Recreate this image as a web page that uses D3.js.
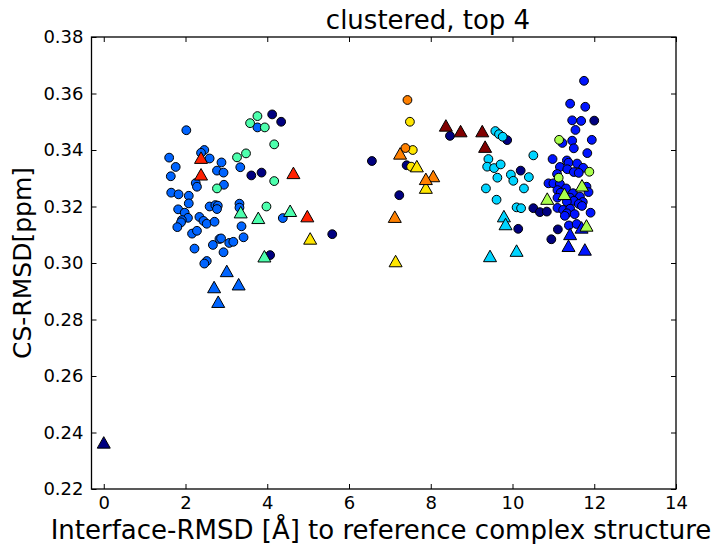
<!DOCTYPE html>
<html>
<head>
<meta charset="utf-8">
<script src="https://cdn.jsdelivr.net/npm/d3@7"></script>
<style>
  html, body { margin: 0; padding: 0; background: #fff; }
  svg { display: block; }
  text { font-family: "DejaVu Sans", sans-serif; fill: #000; }
</style>
</head>
<body>
<svg id="chart" width="721" height="544"></svg>
<script>
// ---- data ----
const title = "clustered, top 4";
const xLabel = "Interface-RMSD [Å] to reference complex structure";
const yLabel = "CS-RMSD[ppm]";
const xTicks = [0, 2, 4, 6, 8, 10, 12, 14];
const yTicks = [0.22, 0.24, 0.26, 0.28, 0.30, 0.32, 0.34, 0.36, 0.38];
const xDomain = [-0.3, 14];
const yDomain = [0.22, 0.38];

const clusterNames  = ["navy", "blue", "azure", "cyan", "aqua", "lime", "yellow", "orange", "red", "darkred"];
const clusterColors = ["#000080", "#0014ff", "#0064ff", "#00d4ff", "#4dffad", "#aaff4d", "#ffe600", "#ff8000", "#ff2000", "#800000"];

const circlesNavy = [[4.12,0.3526],[4.34,0.350],[3.61,0.331],[3.86,0.332],[4.07,0.3028],[5.59,0.3102],[6.56,0.3361],[7.41,0.3346],[7.23,0.324],[8.47,0.345],[9.87,0.3435],[10.2,0.3327],[10.51,0.3194],[10.67,0.318],[10.84,0.3182],[10.14,0.3121],[11.11,0.3119],[10.95,0.3084],[12.0,0.3504]];
const circlesBlue = [[11.75,0.3645],[11.41,0.3564],[11.78,0.3553],[11.46,0.3505],[11.68,0.3503],[11.54,0.3471],[11.22,0.3425],[11.46,0.3433],[11.5,0.3406],[11.94,0.3436],[11.83,0.3389],[10.98,0.3368],[11.33,0.3363],[11.37,0.3355],[11.58,0.3352],[11.16,0.334],[11.34,0.3332],[11.73,0.3337],[11.5,0.3322],[11.62,0.3319],[11.09,0.3315],[10.88,0.3282],[11.0,0.3282],[11.16,0.328],[11.31,0.3264],[11.1,0.3258],[11.18,0.3249],[11.81,0.327],[11.86,0.3251],[11.48,0.3247],[11.65,0.3235],[11.41,0.3231],[11.1,0.3231],[11.5,0.322],[11.33,0.3217],[11.72,0.3216],[11.62,0.3209],[11.1,0.3195],[11.24,0.3188],[11.41,0.3192],[11.7,0.3202],[11.33,0.3176],[11.28,0.3167],[11.52,0.3173],[11.91,0.3178],[11.38,0.3133],[11.57,0.3138]];
const circlesAzure = [[2.02,0.347],[3.76,0.348],[1.60,0.3373],[2.46,0.340],[2.38,0.339],[2.59,0.337],[2.88,0.3356],[1.76,0.334],[3.34,0.3339],[2.77,0.3327],[2.93,0.332],[1.64,0.3307],[2.25,0.3283],[2.28,0.327],[2.94,0.3277],[1.65,0.3249],[1.83,0.3243],[2.08,0.3238],[2.08,0.3211],[1.82,0.319],[1.98,0.3178],[2.06,0.316],[1.91,0.3152],[1.89,0.3144],[1.80,0.3127],[2.59,0.320],[2.73,0.3205],[2.79,0.3203],[2.77,0.3191],[3.32,0.321],[3.32,0.3196],[4.38,0.3159],[2.34,0.3163],[2.44,0.3149],[2.52,0.3139],[2.71,0.3146],[3.37,0.313],[2.16,0.3104],[2.28,0.3114],[2.83,0.3085],[2.87,0.3087],[2.67,0.3064],[3.07,0.3071],[3.17,0.3075],[3.42,0.3091],[2.93,0.3038],[2.22,0.3051],[2.52,0.3007],[2.46,0.2998]];
const circlesCyan = [[9.58,0.3467],[9.67,0.3456],[9.76,0.3447],[9.41,0.3368],[9.38,0.3341],[9.55,0.3336],[9.71,0.3349],[9.63,0.3302],[9.96,0.3313],[10.02,0.3291],[10.4,0.3304],[10.28,0.3264],[9.35,0.3264],[9.61,0.3224],[10.1,0.3197],[10.21,0.3194],[10.51,0.3381]];
const circlesAqua = [[3.76,0.352],[3.58,0.3495],[3.94,0.348],[4.17,0.342],[3.26,0.3374],[3.48,0.3388],[4.17,0.329],[2.77,0.3264],[3.98,0.320]];
const circlesLime = [[11.14,0.3436],[11.88,0.3323],[11.13,0.3302]];
const circlesYellow = [[7.49,0.350],[7.56,0.340],[7.52,0.3341]];
const circlesOrange = [[7.43,0.3577],[7.38,0.3407]];
const circlesRed = [];
const circlesDarkred = [];

const topNavy = [[0.0,0.2365]];
const topBlue = [[11.41,0.3103],[11.37,0.3061],[11.77,0.3048],[11.69,0.3126]];
const topAzure = [[3.01,0.2972],[2.70,0.2915],[3.30,0.2925],[2.80,0.2863]];
const topCyan = [[9.45,0.3025],[9.79,0.3166],[9.83,0.3138],[10.1,0.3044]];
const topAqua = [[3.35,0.318],[3.78,0.316],[4.56,0.3185],[3.93,0.3024]];
const topLime = [[11.7,0.3275],[11.27,0.3245],[10.85,0.3228],[11.81,0.3133]];
const topYellow = [[7.66,0.3343],[7.88,0.3267],[5.05,0.3087],[7.14,0.3007]];
const topOrange = [[7.25,0.3388],[8.06,0.3308],[7.88,0.3298],[7.12,0.3164]];
const topRed = [[2.38,0.3373],[2.38,0.3314],[4.64,0.3319],[4.98,0.3166]];
const topDarkred = [[8.37,0.3487],[8.73,0.3467],[9.26,0.3467],[9.33,0.3412]];

const clusterCircles = [circlesNavy, circlesBlue, circlesAzure, circlesCyan, circlesAqua, circlesLime, circlesYellow, circlesOrange, circlesRed, circlesDarkred];
const clusterTops = [topNavy, topBlue, topAzure, topCyan, topAqua, topLime, topYellow, topOrange, topRed, topDarkred];

// ---- layout ----
const W = 721, H = 544;
const plot = { left: 91.5, right: 676, top: 37, bottom: 489 };

const svg = d3.select("#chart");
const x = d3.scaleLinear().domain(xDomain).range([plot.left, plot.right]);
const y = d3.scaleLinear().domain(yDomain).range([plot.bottom, plot.top]);

const tickLen = 5;
const fmtY = d3.format(".2f");

// axes (ticks inward, mirrored)
const gx = svg.append("g").attr("transform", `translate(0,${plot.bottom})`)
  .call(d3.axisBottom(x).tickValues(xTicks).tickSize(-tickLen).tickPadding(7).tickFormat(d3.format("d")));
const gxTop = svg.append("g").attr("transform", `translate(0,${plot.top})`)
  .call(d3.axisTop(x).tickValues(xTicks).tickSize(-tickLen).tickFormat(""));
const gy = svg.append("g").attr("transform", `translate(${plot.left},0)`)
  .call(d3.axisLeft(y).tickValues(yTicks).tickSize(-tickLen).tickPadding(8).tickFormat(fmtY));
const gyR = svg.append("g").attr("transform", `translate(${plot.right},0)`)
  .call(d3.axisRight(y).tickValues(yTicks).tickSize(-tickLen).tickFormat(""));

[gx, gxTop, gy, gyR].forEach(g => {
  g.select(".domain").remove();
  g.selectAll(".tick line").attr("stroke", "#000").attr("stroke-width", 1);
  g.selectAll(".tick text").style("font-family", "'DejaVu Sans', sans-serif").style("font-size", "18px").attr("fill", "#000");
});
gx.selectAll(".tick text").attr("dy", "0.71em");

// markers
const R = 4.4;
const triW = 13, triH = 11.5;
const triPath = `M0,${-triH/2}L${triW/2},${triH/2}L${-triW/2},${triH/2}Z`;

const markers = svg.append("g");
clusterCircles.forEach((pts, i) => {
  markers.selectAll(null).data(pts).enter().append("circle")
    .attr("cx", d => x(d[0])).attr("cy", d => y(d[1])).attr("r", R)
    .attr("fill", clusterColors[i]).attr("stroke", "#000").attr("stroke-width", 1);
});
clusterTops.forEach((pts, i) => {
  markers.selectAll(null).data(pts).enter().append("path")
    .attr("d", triPath)
    .attr("transform", d => `translate(${x(d[0])},${y(d[1])})`)
    .attr("fill", clusterColors[i]).attr("stroke", "#000").attr("stroke-width", 1);
});

// frame
svg.append("rect")
  .attr("x", plot.left).attr("y", plot.top)
  .attr("width", plot.right - plot.left).attr("height", plot.bottom - plot.top)
  .attr("fill", "none").attr("stroke", "#000").attr("stroke-width", 1.3);

// labels
svg.append("text").attr("x", 428).attr("y", 29).attr("text-anchor", "middle")
  .style("font-size", "26px").text(title);
svg.append("text").attr("x", 381).attr("y", 539).attr("text-anchor", "middle")
  .style("font-size", "26px").text(xLabel);
svg.append("text").attr("transform", `translate(31,${(plot.top + plot.bottom) / 2}) rotate(-90)`)
  .attr("text-anchor", "middle").style("font-size", "25px").text(yLabel);
</script>
</body>
</html>
